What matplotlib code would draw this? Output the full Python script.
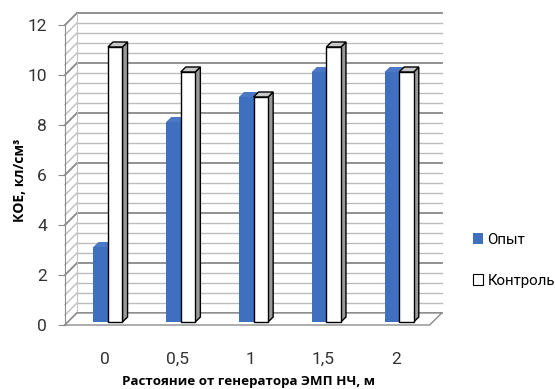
import matplotlib.pyplot as plt
from matplotlib.patches import Polygon, Patch
import numpy as np

# distances from the generator and colony counts
distances = ['0', '0,5', '1', '1,5', '2']
opyt = [3, 8, 9, 10, 10]
kontrol = [11, 10, 9, 11, 10]
series_names = ['Опыт', 'Контроль']

blue = '#3f6fbf'
font = ['Open Sans', 'DejaVu Sans']
narrow = ['Roboto', 'DejaVu Sans']

W, H = 555, 389
fig = plt.figure(figsize=(W / 100, H / 100), dpi=100)
# axes placed so that category i sits at pixel 105 + 72.8 i and value v at 325 - 25 v
ax = fig.add_axes([60 / W, 1 - 330 / H, 390 / W, 320 / H])
ax.set_xlim((60 - 105) / 72.8, (450 - 105) / 72.8)
ax.set_ylim(-0.2, 12.6)

x = np.arange(len(distances))
x0, x1 = -0.55, 4.46      # floor front edge
dx, dy = 0.165, 0.48      # depth of the walls
ymax = 12

# back wall, left wall and floor
grid = np.arange(0, ymax + 0.01, 0.4)
for v in grid:
    major = abs(v / 2 - round(v / 2)) < 1e-6
    c = '#888888' if major else '#bdbdbd'
    lw = 1.3 if major else 1.0
    ax.plot([x0 + dx, x1 + dx], [v + dy, v + dy], color=c, lw=lw, zorder=1)
    ax.plot([x0, x0 + dx], [v, v + dy], color=c, lw=lw, zorder=1)
ax.plot([x0 + dx, x0 + dx], [dy, ymax + dy], color='#c4c4c4', lw=0.8, zorder=1)
ax.add_patch(Polygon([[x0, 0], [x1, 0], [x1 + dx, dy], [x0 + dx, dy]],
                     closed=True, facecolor='white', edgecolor='#8c8c8c', lw=1.0, zorder=1.5))

# bars with a little depth
w = 0.2
bx, by = 0.04, 0.12
bdx, bdy = 0.07, 0.2
ax.bar(x - w / 2 + bx, opyt, width=w, bottom=by, color=blue, edgecolor='none', zorder=3)
for xi, v in zip(x, opyt):
    l, r, t = xi - w + bx, xi + bx, v + by
    ax.add_patch(Polygon([[l, t], [r, t], [r + bdx, t + bdy], [l + bdx, t + bdy]],
                         closed=True, facecolor='#4a78c4', edgecolor='none', zorder=2.9))

ax.bar(x + w / 2 + bx, kontrol, width=w, bottom=by, color='white', edgecolor='black', lw=1.0, zorder=5)
for xi, v in zip(x, kontrol):
    l, r, t = xi + bx, xi + w + bx, v + by
    ax.add_patch(Polygon([[r, by], [r + bdx, by + bdy], [r + bdx, t + bdy], [r, t]],
                         closed=True, facecolor='#9a9a9a', edgecolor='black', lw=1.0, zorder=4))
    ax.add_patch(Polygon([[l, t], [r, t], [r + bdx, t + bdy], [l + bdx, t + bdy]],
                         closed=True, facecolor='#c8c8c8', edgecolor='black', lw=1.0, zorder=4))

# axis
for s in ['top', 'right', 'bottom']:
    ax.spines[s].set_visible(False)
ax.spines['left'].set_position(('data', x0))
ax.spines['left'].set_bounds(0, ymax)
ax.spines['left'].set_color('#8c8c8c')
ax.set_yticks(range(0, 13, 2))
ax.set_yticklabels([str(v) for v in range(0, 13, 2)], family=narrow, fontsize=12.5, color='#333333')
ax.tick_params(axis='y', length=5, color='#8c8c8c', pad=8)
ax.set_xticks(x)
ax.set_xticklabels(distances, family=narrow, fontsize=12.5, color='#333333')
ax.tick_params(axis='x', length=0, pad=16)

fig.text(20 / W, 1 - 180 / H, 'КОЕ, кл/см³', rotation=90, ha='center', va='center',
         family=font, fontsize=10, fontweight='bold')
fig.text(248 / W, 1 - 381 / H, 'Растояние от генератора ЭМП НЧ, м', ha='center', va='center',
         family=font, fontsize=9.6, fontweight='bold')

handles = [Patch(facecolor=blue, edgecolor='none'),
           Patch(facecolor='white', edgecolor='black', lw=0.8)]
fig.legend(handles, series_names, loc='center left', bbox_to_anchor=(459 / W, 1 - 260 / H),
           frameon=False, prop={'family': narrow, 'size': 10.8}, handlelength=0.7, handleheight=0.7,
           handletextpad=0.3, labelspacing=1.8)

fig.savefig('out.png', dpi=100)
